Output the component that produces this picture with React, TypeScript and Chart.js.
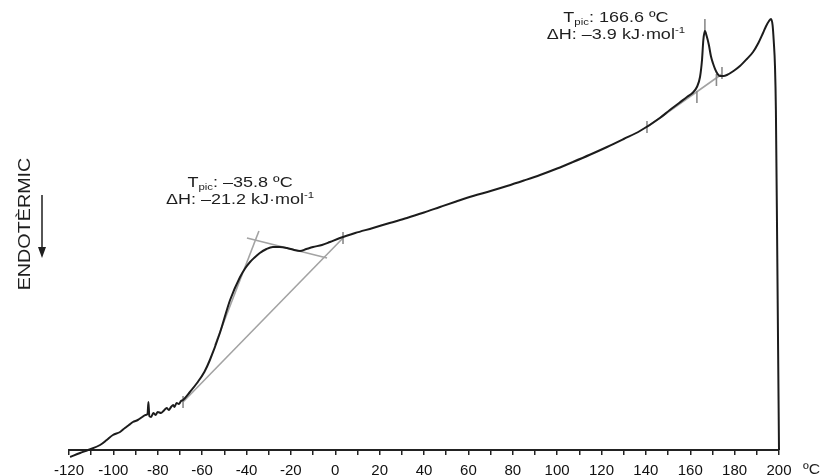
import React, { useEffect, useRef } from "react";
import { Chart, registerables } from "chart.js";

Chart.register(...registerables);

// DSC curve: temperature (°C) and heat-flow signal (arbitrary units, endo down)
const temps = [
  -119.5, -115, -111.4, -106, -103, -100.2, -97, -94.8, -93, -91.2, -89, -87, -85.5, -84.6, -84.2, -83.8,
  -83, -82, -81, -80, -78.5, -77, -76, -75, -74, -73, -72.5, -71.5, -70.5, -69.5, -68.6, -65.5, -62.3,
  -59, -56.5, -52, -47.4, -42.9, -40.5, -38.4, -36.6, -34, -31, -28.1, -25, -21.8, -18.5, -15.9, -13, -10,
  -6, -2.4, 2.1, 9, 17, 24.5, 32.3, 40, 47.2, 54.5, 62.1, 70, 77.4, 85, 92.3, 100, 107.1, 115, 122.5, 130,
  137.3, 146.3, 150.8, 155, 158.5, 161, 163, 164.4, 165.3, 165.9, 166.6, 167.4, 168.4, 169.3, 170.2, 171.8,
  173.4, 175, 176.5, 179.5, 182.4, 185.5, 188.3, 190.7, 192.8, 194.2, 195.5, 196.4, 197.1, 197.6, 198.2,
  198.6, 199.2, 199.6, 200,
];
const signal = [
  -7, -3, 0, 5, 10, 15, 18, 22, 25, 28, 30, 33, 35, 36, 48, 34,
  33, 37, 35, 38, 37, 40, 42, 40, 43, 45, 43, 47, 46, 49, 50, 58, 67,
  78, 90, 117, 150, 173, 182, 188, 192, 197, 201, 203, 203, 202, 200, 199, 201, 203,
  205, 208, 212, 217, 222, 227, 232, 237.5, 243, 248.5, 254, 259, 264, 269.5, 275, 281.5, 288, 295.5, 303, 311,
  319, 332, 340, 347, 353, 357, 363, 373, 390, 410, 419, 414, 405, 394, 387, 378,
  374, 374, 375, 379, 384, 391, 398, 407, 417, 424, 429, 431, 425, 410, 383,
  340, 200, 100, 0,
];

// Construction lines (grey): tangents and interpolated baselines
const tangentLowT = [-54.2, -34.4];
const tangentLowY = [105, 219];
const tangentTopT = [-39.8, -3.7];
const tangentTopY = [212, 192];
const baselineLowT = [-68.6, 3.5];
const baselineLowY = [48, 212];
const baselineHighT = [140.5, 174.3];
const baselineHighY = [323, 376];

// Integration limit marks
const markT = [-68.6, 3.5, 140.5, 163, 171.8, 174.3, 166.6];
const markY = [48, 212, 323, 353, 370, 377, 425];

// Peak annotations
const peakTemps = [-35.8, 166.6];
const peakEnthalpy = [-21.2, -3.9];
const labelT = [-42.9, 126.5];
const labelY = [263, 428];

const xTickMin = -120;
const xTickMax = 200;
const FONT = "'Liberation Sans', Arial, Helvetica, sans-serif";
const GREY = "#a3a3a3";

function fmt(v: number, digits: number) {
  const s = Math.abs(v).toFixed(digits);
  return v < 0 ? "\u2013" + s : s;
}

type Part = { text: string; size: number; dy: number };

function drawRich(ctx: CanvasRenderingContext2D, parts: Part[], cx: number, baseline: number, sx: number) {
  let total = 0;
  const widths = parts.map((p) => {
    ctx.font = `${p.size}px ${FONT}`;
    const w = ctx.measureText(p.text).width;
    total += w;
    return w;
  });
  ctx.save();
  ctx.translate(cx - (total * sx) / 2, baseline);
  ctx.scale(sx, 1);
  ctx.textBaseline = "alphabetic";
  ctx.textAlign = "left";
  let x = 0;
  parts.forEach((p, i) => {
    ctx.font = `${p.size}px ${FONT}`;
    ctx.fillText(p.text, x, p.dy);
    x += widths[i];
  });
  ctx.restore();
}

const annotPlugin = {
  id: "annot",
  afterDraw(chart: any) {
    const { ctx, scales } = chart;
    const xs = scales.x;
    const ys = scales.y;
    ctx.save();
    ctx.fillStyle = "#1e1e1e";
    ctx.strokeStyle = "#1e1e1e";
    // peak labels
    peakTemps.forEach((t, i) => {
      const cx = xs.getPixelForValue(labelT[i]);
      const by = ys.getPixelForValue(labelY[i]);
      drawRich(
        ctx,
        [
          { text: "T", size: 15, dy: 0 },
          { text: "pic", size: 9.5, dy: 3 },
          { text: `: ${fmt(t, 1)} \u00baC`, size: 15, dy: 0 },
        ],
        cx,
        by,
        1.2
      );
      drawRich(
        ctx,
        [
          { text: `\u0394H: ${fmt(peakEnthalpy[i], 1)} kJ\u00b7mol`, size: 15, dy: 0 },
          { text: "-1", size: 9.5, dy: -6 },
        ],
        cx,
        by + 17,
        1.2
      );
    });
    // unit
    const ca = chart.chartArea;
    ctx.save();
    ctx.font = `15px ${FONT}`;
    ctx.textBaseline = "middle";
    ctx.textAlign = "left";
    ctx.translate(ca.right + 24, ca.bottom + 20);
    ctx.scale(1.05, 1);
    ctx.fillText("\u00baC", 0, 0);
    ctx.restore();
    // y label
    ctx.save();
    ctx.translate(25, 224);
    ctx.rotate(-Math.PI / 2);
    ctx.scale(1.16, 1);
    ctx.font = `17px ${FONT}`;
    ctx.textAlign = "center";
    ctx.textBaseline = "middle";
    ctx.fillText("ENDOT\u00c8RMIC", 0, 0);
    ctx.restore();
    // arrow
    ctx.lineWidth = 1.5;
    ctx.beginPath();
    ctx.moveTo(42, 195);
    ctx.lineTo(42, 250);
    ctx.stroke();
    ctx.beginPath();
    ctx.moveTo(38, 247);
    ctx.lineTo(46, 247);
    ctx.lineTo(42, 258);
    ctx.closePath();
    ctx.fill();
    ctx.restore();
  },
};

function pts(xs: number[], ys: number[]) {
  return xs.map((x, i) => ({ x, y: ys[i] }));
}

export default function App() {
  const ref = useRef<HTMLCanvasElement | null>(null);
  useEffect(() => {
    if (!ref.current) return;
    const greyLine = (xs: number[], ys: number[]) => ({
      data: pts(xs, ys),
      showLine: true,
      borderColor: GREY,
      borderWidth: 1.6,
      pointRadius: 0,
      order: 2,
      clip: false as any,
    });
    const chart = new Chart(ref.current, {
      type: "scatter",
      data: {
        datasets: [
          {
            data: pts(temps, signal),
            showLine: true,
            borderColor: "#1c1c1c",
            borderWidth: 2,
            pointRadius: 0,
            cubicInterpolationMode: "monotone",
            order: 0,
            clip: false as any,
          } as any,
          greyLine(tangentLowT, tangentLowY),
          greyLine(tangentTopT, tangentTopY),
          greyLine(baselineLowT, baselineLowY),
          greyLine(baselineHighT, baselineHighY),
          {
            data: pts(markT, markY),
            showLine: false,
            pointStyle: "line",
            rotation: 90,
            pointRadius: 6,
            borderColor: "#8a8a8a",
            backgroundColor: "#8a8a8a",
            pointBorderWidth: 1.6,
            order: 1,
            clip: false as any,
          } as any,
        ],
      },
      options: {
        responsive: false,
        animation: false,
        devicePixelRatio: 1,
        layout: { padding: { left: 69, right: 45, top: 10, bottom: 0 } },
        plugins: { legend: { display: false }, tooltip: { enabled: false } },
        scales: {
          x: {
            type: "linear",
            min: xTickMin,
            max: xTickMax,
            ticks: {
              stepSize: 10,
              autoSkip: false,
              maxRotation: 0,
              padding: 7,
              color: "#111",
              font: { size: 15, family: FONT },
              callback: (v: any) => (Number(v) % 20 === 0 ? String(v) : ""),
            },
            grid: { drawOnChartArea: false, drawTicks: true, tickLength: 5, color: "#222", lineWidth: 1.5 },
            border: { display: true, color: "#222", width: 2 },
            afterFit: (s: any) => {
              s.height = 26;
            },
          },
          y: { display: false, min: 0, max: 440 },
        },
      },
      plugins: [annotPlugin],
    });
    return () => chart.destroy();
  }, []);
  return (
    <div style={{ position: "absolute", left: 0, top: 0, width: 824, height: 476, background: "#fff" }}>
      <canvas ref={ref} width={824} height={476} style={{ display: "block" }} />
    </div>
  );
}
